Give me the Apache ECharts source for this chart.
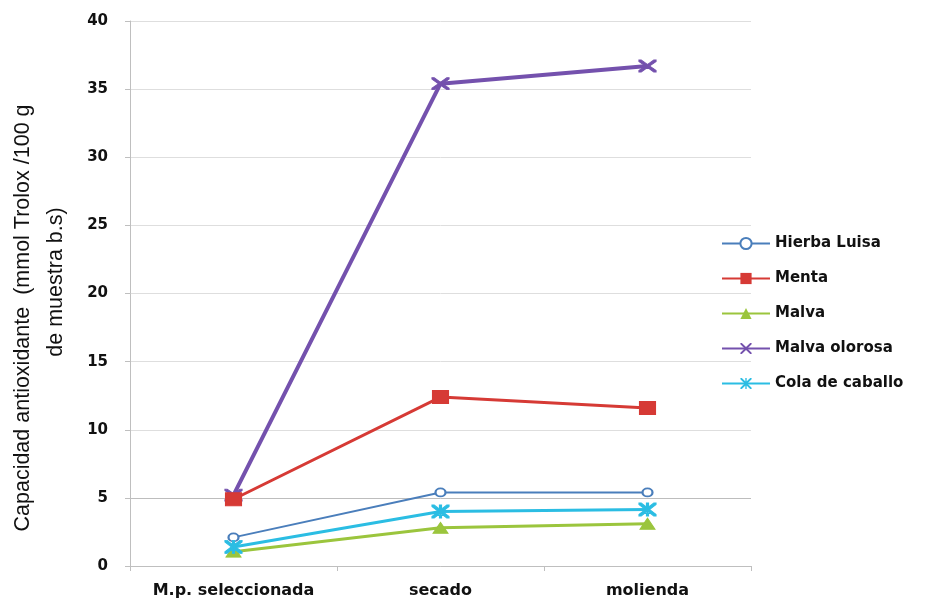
<!DOCTYPE html>
<html>
<head>
<meta charset="utf-8">
<script src="https://cdn.jsdelivr.net/npm/echarts@6/dist/echarts.min.js"></script>
<style>
  html, body { margin: 0; padding: 0; background: #ffffff; }
  #chart { width: 940px; height: 602px; }
</style>
</head>
<body>
<div id="chart"></div>
<script>
// Processing stages (x categories)
const stages = ['M.p. seleccionada', 'secado', 'molienda'];

// Antioxidant capacity per plant (mmol Trolox / 100 g sample, dry basis)
const hierbaLuisa   = [2.1, 5.4, 5.4];
const menta         = [4.9, 12.4, 11.6];
const malva         = [1.05, 2.8, 3.1];
const malvaOlorosa  = [5.2, 35.4, 36.7];
const colaDeCaballo = [1.4, 4.0, 4.15];

// Value axis ticks
const yTicks = [0, 5, 10, 15, 20, 25, 30, 35, 40];

// Value axis title, two lines
const yTitleLines = ['Capacidad antioxidante  (mmol Trolox /100 g', 'de muestra b.s)'];

// Marker shapes
const crossPath = 'path://M0,0L2.5,0L10,7.5L17.5,0L20,0L20,2.5L12.5,10L20,17.5L20,20L17.5,20L10,12.5L2.5,20L0,20L0,17.5L7.5,10L0,2.5Z';
const starPath = 'path://M0,0L2.5,0L10,7.5L17.5,0L20,0L20,2.5L12.5,10L20,17.5L20,20L17.5,20L10,12.5L2.5,20L0,20L0,17.5L7.5,10L0,2.5Z M8.8,0L11.2,0L11.2,20L8.8,20Z';

const chart = echarts.init(document.getElementById('chart'));

const gridColors = yTicks.map(v => v === 5 ? '#bdbdbd' : '#dedede');

function lineSeries(name, data, color, width, symbol, size, extra) {
  return Object.assign({
    name: name,
    type: 'line',
    data: data,
    symbol: symbol,
    symbolSize: size,
    showAllSymbol: true,
    lineStyle: { color: color, width: width },
    itemStyle: { color: color, borderColor: color },
    emphasis: { disabled: true },
    animation: false
  }, extra || {});
}

const titleFont = {
  fontFamily: 'Liberation Sans, sans-serif',
  fontSize: 21.5,
  fill: '#111111',
  textAlign: 'center',
  textVerticalAlign: 'middle'
};

chart.setOption({
  backgroundColor: '#ffffff',
  animation: false,
  grid: { left: 130, right: 189, top: 21, bottom: 36, containLabel: false },
  graphic: [
    {
      type: 'text', x: 23, y: 318, rotation: Math.PI / 2, silent: true,
      style: Object.assign({ text: yTitleLines[0] }, titleFont)
    },
    {
      type: 'text', x: 56, y: 282, rotation: Math.PI / 2, silent: true,
      style: Object.assign({ text: yTitleLines[1] }, titleFont)
    }
  ],
  legend: {
    orient: 'vertical',
    left: 716,
    top: 231,
    itemWidth: 48,
    itemHeight: 14,
    itemGap: 20,
    textStyle: {
      fontFamily: 'DejaVu Sans',
      fontWeight: 'bold',
      fontSize: 15,
      color: '#111111'
    },
    data: ['Hierba Luisa', 'Menta', 'Malva', 'Malva olorosa', 'Cola de caballo']
  },
  xAxis: {
    type: 'category',
    data: stages,
    boundaryGap: true,
    axisLine: { lineStyle: { color: '#bfbfbf', width: 1 } },
    axisTick: { show: true, length: 5, lineStyle: { color: '#bfbfbf' } },
    axisLabel: {
      interval: 0,
      fontFamily: 'DejaVu Sans',
      fontWeight: 'bold',
      fontSize: 16,
      color: '#111111',
      margin: 17
    }
  },
  yAxis: {
    type: 'value',
    min: 0,
    max: 40,
    interval: 5,
    axisLine: { show: true, lineStyle: { color: '#bfbfbf', width: 1 } },
    axisTick: { show: true, length: 5, lineStyle: { color: '#bfbfbf' } },
    splitLine: { show: true, lineStyle: { color: gridColors, width: 1 } },
    axisLabel: {
      fontFamily: 'DejaVu Sans',
      fontWeight: 'bold',
      fontSize: 15,
      color: '#111111',
      margin: 22
    }
  },
  series: [
    lineSeries('Hierba Luisa', hierbaLuisa, '#4a7ebb', 2, 'emptyCircle', [10, 8],
      { itemStyle: { color: '#4a7ebb', borderColor: '#4a7ebb', borderWidth: 1.5 } }),
    lineSeries('Menta', menta, '#d63a35', 3, 'rect', [16, 13], { z: 4 }),
    lineSeries('Malva', malva, '#9bc53d', 3, 'triangle', [15, 11]),
    lineSeries('Malva olorosa', malvaOlorosa, '#7451ad', 4, crossPath, [17, 12]),
    lineSeries('Cola de caballo', colaDeCaballo, '#2bbde3', 3, starPath, [17, 13])
  ]
});
</script>
</body>
</html>
